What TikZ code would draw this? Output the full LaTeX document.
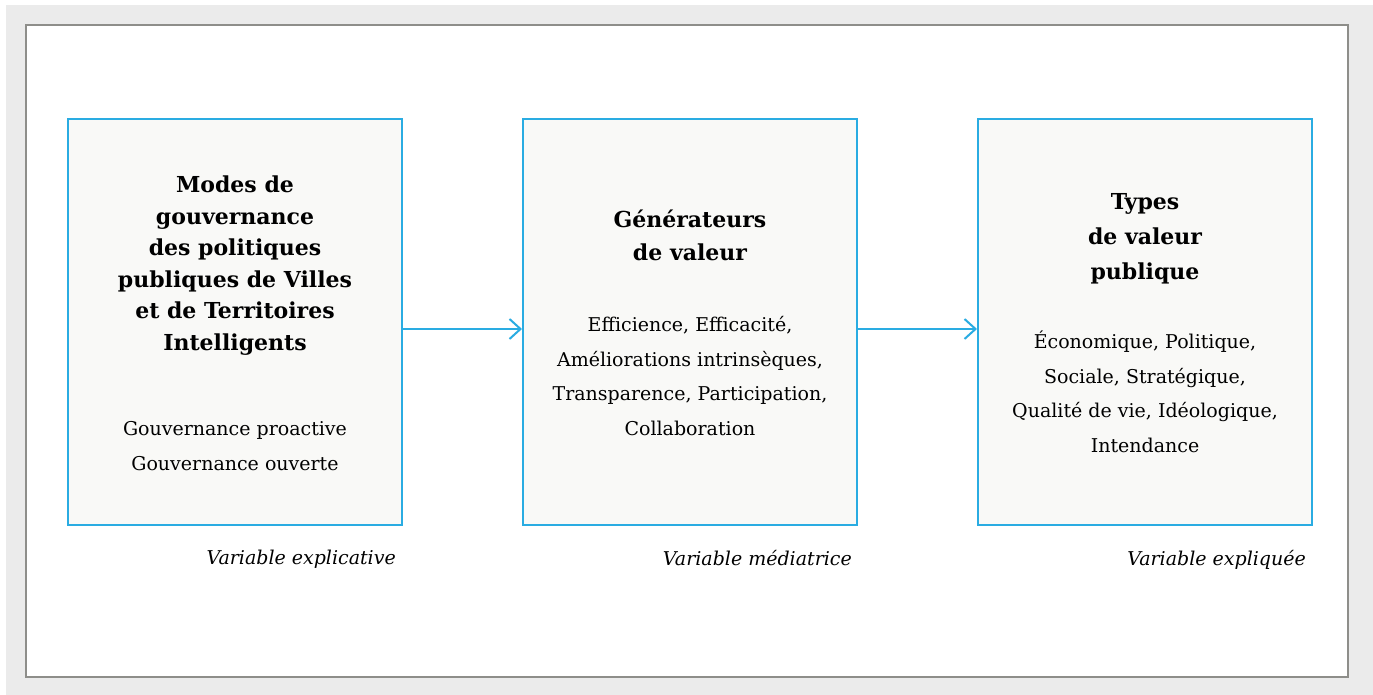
\documentclass[tikz,border=0pt]{standalone}
\usepackage{fontspec}
\setmainfont{DejaVu Serif}
\usetikzlibrary{positioning,arrows.meta}
\definecolor{boxblue}{HTML}{2AACE2}
\definecolor{boxfill}{HTML}{F9F9F7}
\definecolor{framegray}{HTML}{8E8E8A}
\definecolor{backgray}{HTML}{EBEBEB}
\begin{document}
\begin{tikzpicture}[x=1pt, y=-1pt]
    \tikzset{
        box/.style={draw=boxblue, line width=2pt, fill=boxfill, minimum width=334pt, minimum height=406pt},
        title/.style={font=\fontsize{22}{31.5}\selectfont\bfseries, align=center, inner sep=0pt},
        body/.style={font=\fontsize{19}{34.5}\selectfont, align=center, inner sep=0pt},
        var/.style={font=\fontsize{19}{23}\selectfont\itshape, inner sep=0pt},
        link/.style={draw=boxblue, line width=2pt, -{Straight Barb[length=11pt, width=20pt]}}
        }
    \useasboundingbox (0,0) rectangle (1373,695);

    %frame
    \fill[backgray] (6,5) rectangle (1373,695);
    \draw[framegray, line width=2pt, fill=white] (26,25) rectangle (1348,677);

    %boxes
    \node (gov) [box] at (235,322) {};
    \node (gen) [box, right=119pt of gov] {};
    \node (types) [box, right=119pt of gen] {};

    %texts of the boxes
    \node (govtitle) [title, below=58pt of gov.north] {Modes de\\gouvernance\\des politiques\\publiques de Villes\\et de Territoires\\Intelligents};
    \node (govtext) [body, below=66pt of govtitle] {Gouvernance proactive\\Gouvernance ouverte};

    \node (gentitle) [title, below=92pt of gen.north, font=\fontsize{22}{33}\selectfont\bfseries] {Générateurs\\de valeur};
    \node (gentext) [body, below=55pt of gentitle] {Efficience, Efficacité,\\Améliorations intrinsèques,\\Transparence, Participation,\\Collaboration};

    \node (typestitle) [title, below=75pt of types.north, font=\fontsize{22}{35}\selectfont\bfseries] {Types\\de valeur\\publique};
    \node (typestext) [body, below=47pt of typestitle] {Économique, Politique,\\Sociale, Stratégique,\\Qualité de vie, Idéologique,\\Intendance};

    %variables
    \node (govvar) [var, below left=24pt and 7pt of gov.south east] {Variable explicative};
    \node (genvar) [var, below left=24pt and 6pt of gen.south east] {Variable médiatrice};
    \node (typesvar) [var, below left=24pt and 7pt of types.south east] {Variable expliquée};

    %links
    \draw[link] ([yshift=-7pt]gov.east) -- ([yshift=-7pt]gen.west);
    \draw[link] ([yshift=-7pt]gen.east) -- ([yshift=-7pt]types.west);
\end{tikzpicture}
\end{document}
